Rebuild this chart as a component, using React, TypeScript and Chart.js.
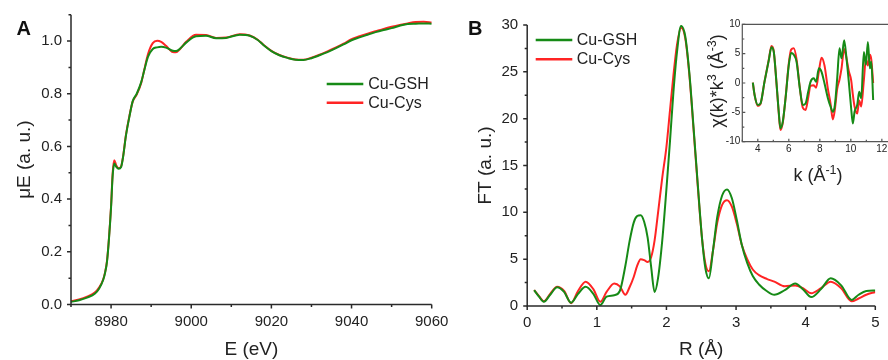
import React, { useEffect, useRef } from "react";
import { Chart, registerables } from "chart.js";

Chart.register(...registerables);

const FONT = '"Liberation Sans", Arial, Helvetica, sans-serif';
const GREEN = "#168a16";
const RED = "#ff2424";
const INK = "#222222";

const SERIES_NAMES = ["Cu-GSH", "Cu-Cys"];

// ---------- Panel A: XANES ----------
const E_EV = [8970, 8972, 8974, 8976, 8977, 8978, 8978.5, 8979, 8979.5, 8980, 8980.4, 8980.8, 8981.3, 8981.9, 8982.5, 8983, 8983.7, 8984.6, 8985.4, 8986.4, 8987.5, 8988.3, 8989.2, 8990.4, 8991.5, 8992.5, 8993.7, 8995.4, 8996.2, 8997.1, 8998.8, 9001.2, 9003.7, 9006.2, 9008.7, 9012.1, 9014.6, 9016.6, 9018, 9020, 9022, 9024, 9026, 9028, 9030, 9032, 9034, 9036, 9038, 9040, 9042, 9044, 9046, 9048, 9050, 9052, 9054, 9056, 9058, 9060];
const MU_GSH = [0.010, 0.016, 0.026, 0.042, 0.060, 0.092, 0.120, 0.165, 0.255, 0.370, 0.490, 0.535, 0.522, 0.515, 0.522, 0.560, 0.640, 0.715, 0.772, 0.800, 0.843, 0.890, 0.940, 0.970, 0.976, 0.978, 0.975, 0.963, 0.962, 0.970, 0.995, 1.018, 1.020, 1.011, 1.012, 1.024, 1.020, 1.004, 0.985, 0.962, 0.946, 0.936, 0.929, 0.928, 0.935, 0.946, 0.958, 0.972, 0.987, 1.003, 1.014, 1.024, 1.034, 1.042, 1.049, 1.058, 1.065, 1.066, 1.067, 1.066];
const MU_CYS = [0.012, 0.019, 0.030, 0.046, 0.064, 0.094, 0.122, 0.168, 0.258, 0.375, 0.500, 0.548, 0.528, 0.517, 0.524, 0.562, 0.643, 0.718, 0.770, 0.797, 0.840, 0.892, 0.950, 0.992, 1.001, 0.997, 0.982, 0.958, 0.957, 0.968, 0.998, 1.024, 1.023, 1.012, 1.013, 1.026, 1.021, 1.005, 0.986, 0.963, 0.947, 0.937, 0.930, 0.929, 0.937, 0.948, 0.961, 0.975, 0.990, 1.007, 1.018, 1.028, 1.037, 1.046, 1.054, 1.061, 1.067, 1.072, 1.073, 1.070];
const A_X_TICKS = [8980, 9000, 9020, 9040, 9060];
const A_Y_TICKS = [0, 0.2, 0.4, 0.6, 0.8, 1.0];

// ---------- Panel B: Fourier transform ----------
const R_ANG = [0.10, 0.17, 0.24, 0.33, 0.43, 0.53, 0.63, 0.73, 0.84, 0.95, 1.05, 1.14, 1.25, 1.33, 1.41, 1.47, 1.53, 1.58, 1.63, 1.68, 1.73, 1.78, 1.83, 1.88, 1.94, 2.00, 2.05, 2.10, 2.15, 2.21, 2.27, 2.33, 2.39, 2.45, 2.51, 2.56, 2.61, 2.67, 2.73, 2.80, 2.87, 2.94, 3.01, 3.08, 3.16, 3.24, 3.33, 3.44, 3.55, 3.70, 3.85, 3.96, 4.08, 4.22, 4.36, 4.51, 4.66, 4.76, 4.87, 5.00];
const FT_GSH = [1.7, 1.0, 0.45, 1.2, 2.0, 1.5, 0.35, 1.3, 2.05, 1.3, 0.1, 1.0, 1.15, 1.6, 4.3, 6.9, 8.9, 9.6, 9.7, 9.0, 7.3, 4.2, 1.5, 3.0, 7.0, 12.5, 17.5, 22.8, 27.0, 29.9, 28.8, 24.8, 19.0, 13.0, 7.3, 4.0, 2.95, 6.0, 9.5, 11.8, 12.45, 11.5, 9.2, 6.6, 4.6, 3.2, 2.3, 1.6, 1.2, 1.7, 2.4, 1.8, 0.95, 1.8, 2.95, 2.2, 0.65, 1.2, 1.6, 1.65];
const FT_CYS = [1.7, 1.05, 0.5, 1.3, 2.05, 1.6, 0.3, 1.6, 2.6, 1.8, 0.45, 1.5, 2.4, 2.1, 1.2, 2.0, 3.1, 4.3, 5.0, 4.9, 4.7, 5.2, 7.0, 10.0, 13.7, 17.0, 20.8, 24.6, 27.8, 29.7, 28.6, 24.6, 18.8, 12.8, 7.3, 4.5, 3.7, 6.0, 8.9, 10.8, 11.3, 10.6, 8.8, 6.6, 5.0, 3.9, 3.3, 2.9, 2.6, 2.1, 2.2, 1.9, 1.35, 1.9, 2.6, 1.9, 0.5, 0.8, 1.2, 1.5];
const B_X_TICKS = [0, 1, 2, 3, 4, 5];
const B_Y_TICKS = [0, 5, 10, 15, 20, 25, 30];

// ---------- Inset: k-space ----------
const K_INV = [3.68, 3.79, 4.0, 4.17, 4.43, 4.71, 4.88, 5.03, 5.2, 5.35, 5.46, 5.61, 5.79, 6.0, 6.15, 6.32, 6.5, 6.71, 6.9, 7.08, 7.25, 7.4, 7.61, 7.76, 7.94, 8.11, 8.3, 8.52, 8.69, 8.84, 8.97, 9.12, 9.27, 9.4, 9.57, 9.72, 9.87, 10.02, 10.13, 10.24, 10.41, 10.54, 10.67, 10.84, 10.97, 11.1, 11.23, 11.32, 11.44];
const CHI_GSH = [0.05, -2.0, -3.75, -3.5, 0.2, 3.9, 6.1, 5.3, 0.2, -4.9, -7.7, -6.6, -2.6, 3.1, 5.1, 4.8, 3.6, -0.9, -3.75, -3.5, -1.5, 0.2, 0.8, 0.2, 2.5, 1.9, -0.05, -2.6, -4.0, -4.9, -3.75, 0.8, 5.9, 4.2, 7.3, 4.2, 0.2, -4.3, -6.9, -4.9, -3.75, -1.5, -2.6, 5.3, 3.1, 7.0, 2.5, 3.6, -2.9];
const CHI_CYS = [0.05, -2.0, -3.9, -3.6, 0.2, 4.0, 6.3, 5.4, 0.1, -5.1, -8.0, -6.8, -2.5, 3.4, 5.7, 5.9, 4.0, -0.8, -4.2, -4.6, -2.5, -0.5, -0.4, -0.8, 2.0, 4.3, 3.0, -1.0, -3.5, -6.2, -4.5, -1.0, 0.6, 2.5, 5.8, 4.2, 2.0, 0.5, -2.0, -4.0, -5.2, -3.0, -4.0, 0.5, 4.0, 3.0, 4.8, 4.0, 0.0];
const K_TICKS = [4, 6, 8, 10, 12];
const CHI_TICKS = [-10, -5, 0, 5, 10];

// Inset axis titles with real superscripts
const INSET_X_TITLE = [{ t: "k (\u00c5" }, { t: "-1", sup: true }, { t: ")" }];
const INSET_Y_TITLE = [{ t: "\u03c7(k)*k" }, { t: "3", sup: true }, { t: " (\u00c5" }, { t: "-3", sup: true }, { t: ")" }];

const toXY = (xs: number[], ys: number[]) => xs.map((x, i) => ({ x, y: ys[i] }));

// Origin-style axes: axis lines, major + minor ticks
const originAxes = {
  id: "originAxes",
  afterDraw(chart: any, _args: any, opts: any) {
    const { ctx, chartArea: ca, scales } = chart;
    const xs = scales.x;
    const ys = scales.y;
    ctx.save();
    ctx.strokeStyle = opts.color;
    ctx.lineWidth = opts.lineWidth;
    ctx.beginPath();
    if (opts.frame) {
      ctx.rect(ca.left, ca.top, ca.right - ca.left, ca.bottom - ca.top);
    } else {
      ctx.moveTo(ca.left, ca.top);
      ctx.lineTo(ca.left, ca.bottom);
      ctx.lineTo(ca.right, ca.bottom);
    }
    ctx.stroke();
    const dir = opts.inward ? -1 : 1;
    ctx.beginPath();
    const isMajor = (scale: any, v: number) =>
      scale.ticks.some((t: any) => Math.abs(t.value - v) < 1e-6);
    const xTick = (v: number, len: number) => {
      const p = xs.getPixelForValue(v);
      ctx.moveTo(p, ca.bottom);
      ctx.lineTo(p, ca.bottom + dir * len);
    };
    const yTick = (v: number, len: number) => {
      const p = ys.getPixelForValue(v);
      ctx.moveTo(ca.left, p);
      ctx.lineTo(ca.left - dir * len, p);
    };
    xs.ticks.forEach((t: any) => xTick(t.value, opts.major));
    ys.ticks.forEach((t: any) => yTick(t.value, opts.major));
    const nx = Math.round((xs.max - xs.min) / opts.xMinor);
    for (let i = 0; i <= nx; i++) {
      const v = xs.min + i * opts.xMinor;
      if (!isMajor(xs, v)) xTick(v, opts.minor);
    }
    const ny = Math.round((ys.max - ys.min) / opts.yMinor);
    for (let i = 0; i <= ny; i++) {
      const v = ys.min + i * opts.yMinor;
      if (!isMajor(ys, v)) yTick(v, opts.minor);
    }
    ctx.stroke();
    ctx.restore();
  },
};

// Line-sample legend
const lineLegend = {
  id: "lineLegend",
  afterDraw(chart: any, _args: any, opts: any) {
    if (!opts || !opts.show) return;
    const { ctx } = chart;
    ctx.save();
    chart.data.datasets.forEach((ds: any, i: number) => {
      const y = opts.y + i * opts.dy;
      ctx.strokeStyle = ds.borderColor;
      ctx.lineWidth = opts.lineWidth;
      ctx.beginPath();
      ctx.moveTo(opts.x, y);
      ctx.lineTo(opts.x + opts.len, y);
      ctx.stroke();
      ctx.fillStyle = INK;
      ctx.font = `${opts.size}px ${FONT}`;
      ctx.textBaseline = "middle";
      ctx.textAlign = "left";
      ctx.fillText(ds.label, opts.x + opts.len + opts.gap, y + 0.5);
    });
    ctx.restore();
  },
};

// Panel letter
const panelLabel = {
  id: "panelLabel",
  afterDraw(chart: any, _args: any, opts: any) {
    if (!opts || !opts.text) return;
    const { ctx } = chart;
    ctx.save();
    ctx.fillStyle = "#111";
    ctx.font = `bold 20px ${FONT}`;
    ctx.textBaseline = "alphabetic";
    ctx.textAlign = "left";
    ctx.fillText(opts.text, opts.x, opts.y);
    ctx.restore();
  },
};

// Axis titles with superscripts (centered on the plot area)
function drawRich(ctx: any, parts: any[], size: number, supSize: number) {
  const w = parts.reduce((acc, p) => {
    ctx.font = `${p.sup ? supSize : size}px ${FONT}`;
    return acc + ctx.measureText(p.t).width;
  }, 0);
  let x = -w / 2;
  parts.forEach((p) => {
    ctx.font = `${p.sup ? supSize : size}px ${FONT}`;
    ctx.fillText(p.t, x, p.sup ? -size * 0.38 : 0);
    x += ctx.measureText(p.t).width;
  });
}

const richTitles = {
  id: "richTitles",
  afterDraw(chart: any, _args: any, opts: any) {
    if (!opts || !opts.show) return;
    const { ctx, chartArea: ca } = chart;
    ctx.save();
    ctx.fillStyle = INK;
    ctx.textBaseline = "alphabetic";
    ctx.textAlign = "left";
    ctx.save();
    ctx.translate((ca.left + ca.right) / 2 + opts.xDx, ca.bottom + opts.xDy);
    drawRich(ctx, opts.xParts, opts.size, opts.supSize);
    ctx.restore();
    ctx.save();
    ctx.translate(ca.left - opts.yDx, (ca.top + ca.bottom) / 2 + opts.yDy);
    ctx.rotate(-Math.PI / 2);
    drawRich(ctx, opts.yParts, opts.size, opts.supSize);
    ctx.restore();
    ctx.restore();
  },
};

type PanelCfg = {
  xs: number[];
  ys: [number[], number[]];
  xMin: number;
  xMax: number;
  yMin: number;
  yMax: number;
  xTicks: number[];
  yTicks: number[];
  xFmt: (v: number) => string;
  yFmt: (v: number) => string;
  xTitle: string;
  yTitle: string;
  showTitles: boolean;
  padding: { left: number; right: number; top: number; bottom: number };
  yWidth: number;
  xHeight: number;
  tickSize: number;
  titleSize: number;
  xTickPad: number;
  yTickPad: number;
  xTitlePad: number;
  yTitlePad: number;
  axes: any;
  legend: any;
  label: any;
  rich: any;
  lineWidth: number;
};

function makeConfig(c: PanelCfg): any {
  return {
    type: "line",
    data: {
      datasets: [
        {
          label: SERIES_NAMES[0],
          data: toXY(c.xs, c.ys[0]),
          borderColor: GREEN,
          borderWidth: c.lineWidth,
          pointRadius: 0,
          fill: false,
          cubicInterpolationMode: "monotone",
        },
        {
          label: SERIES_NAMES[1],
          data: toXY(c.xs, c.ys[1]),
          borderColor: RED,
          borderWidth: c.lineWidth,
          pointRadius: 0,
          fill: false,
          cubicInterpolationMode: "monotone",
        },
      ],
    },
    options: {
      animation: false,
      responsive: false,
      events: [],
      layout: { padding: c.padding },
      plugins: {
        legend: { display: false },
        tooltip: { enabled: false },
        originAxes: c.axes,
        lineLegend: c.legend,
        panelLabel: c.label,
        richTitles: c.rich,
      },
      scales: {
        x: {
          type: "linear",
          min: c.xMin,
          max: c.xMax,
          grid: { display: true, drawOnChartArea: false, drawTicks: false },
          border: { display: false },
          afterBuildTicks: (s: any) => {
            s.ticks = c.xTicks.map((v) => ({ value: v }));
          },
          afterFit: (s: any) => {
            s.height = c.xHeight;
            s.paddingLeft = 0;
            s.paddingRight = 0;
          },
          ticks: {
            autoSkip: false,
            maxRotation: 0,
            padding: c.xTickPad,
            color: INK,
            font: { family: FONT, size: c.tickSize },
            callback: (v: any) => c.xFmt(Number(v)),
          },
          title: {
            display: c.showTitles,
            text: c.xTitle,
            color: INK,
            font: { family: FONT, size: c.titleSize },
            padding: { top: 0, bottom: c.xTitlePad },
          },
        },
        y: {
          type: "linear",
          min: c.yMin,
          max: c.yMax,
          grid: { display: true, drawOnChartArea: false, drawTicks: false },
          border: { display: false },
          afterBuildTicks: (s: any) => {
            s.ticks = c.yTicks.map((v) => ({ value: v }));
          },
          afterFit: (s: any) => {
            s.width = c.yWidth;
            s.paddingTop = 0;
            s.paddingBottom = 0;
          },
          ticks: {
            autoSkip: false,
            padding: c.yTickPad,
            color: INK,
            font: { family: FONT, size: c.tickSize },
            callback: (v: any) => c.yFmt(Number(v)),
          },
          title: {
            display: c.showTitles,
            text: c.yTitle,
            color: INK,
            font: { family: FONT, size: c.titleSize },
            padding: { top: c.yTitlePad, bottom: 0 },
          },
        },
      },
    },
    plugins: [originAxes, lineLegend, panelLabel, richTitles],
  };
}

const CANVAS_H = 380;

export default function App() {
  const aRef = useRef<HTMLCanvasElement | null>(null);
  const bRef = useRef<HTMLCanvasElement | null>(null);
  const iRef = useRef<HTMLCanvasElement | null>(null);

  useEffect(() => {
    const charts: Chart[] = [];
    const mainAxes = { color: "#2a2a2a", lineWidth: 1.5, frame: false, inward: false, major: 4, minor: 2.5 };

    charts.push(
      new Chart(
        aRef.current as HTMLCanvasElement,
        makeConfig({
          xs: E_EV,
          ys: [MU_GSH, MU_CYS],
          xMin: 8970,
          xMax: 9060,
          yMin: 0,
          yMax: 1.1,
          xTicks: A_X_TICKS,
          yTicks: A_Y_TICKS,
          xFmt: (v) => String(v),
          yFmt: (v) => v.toFixed(1),
          xTitle: "E (eV)",
          yTitle: "\u03bcE (a. u.)",
          showTitles: true,
          padding: { left: 11, right: 888 - 431.7, top: 14.7, bottom: 10 },
          yWidth: 60,
          xHeight: CANVAS_H - 10 - 304.5,
          tickSize: 15,
          titleSize: 19,
          xTickPad: 8,
          yTickPad: 9,
          xTitlePad: 8.6,
          yTitlePad: 2.1,
          axes: { ...mainAxes, xMinor: 10, yMinor: 0.1 },
          legend: { show: true, x: 326.7, y: 84, dy: 18.7, len: 36.6, gap: 5, size: 16, lineWidth: 2.5 },
          label: { text: "A", x: 16.5, y: 35 },
          rich: { show: false },
          lineWidth: 2,
        })
      )
    );

    charts.push(
      new Chart(
        bRef.current as HTMLCanvasElement,
        makeConfig({
          xs: R_ANG,
          ys: [FT_GSH, FT_CYS],
          xMin: 0,
          xMax: 5,
          yMin: 0,
          yMax: 30,
          xTicks: B_X_TICKS,
          yTicks: B_Y_TICKS,
          xFmt: (v) => String(v),
          yFmt: (v) => String(v),
          xTitle: "R (\u00c5)",
          yTitle: "FT (a. u.)",
          showTitles: true,
          padding: { left: 467.2, right: 888 - 875.3, top: 25, bottom: 10 },
          yWidth: 60,
          xHeight: CANVAS_H - 10 - 306,
          tickSize: 15,
          titleSize: 19,
          xTickPad: 8,
          yTickPad: 9,
          xTitlePad: 8.6,
          yTitlePad: 7.1,
          axes: { ...mainAxes, xMinor: 0.5, yMinor: 2.5 },
          legend: { show: true, x: 535.7, y: 40, dy: 19.3, len: 36.6, gap: 4.5, size: 16, lineWidth: 2.5 },
          label: { text: "B", x: 468, y: 35 },
          rich: { show: false },
          lineWidth: 2,
        })
      )
    );

    charts.push(
      new Chart(
        iRef.current as HTMLCanvasElement,
        makeConfig({
          xs: K_INV,
          ys: [CHI_GSH, CHI_CYS],
          xMin: 3,
          xMax: 12.5,
          yMin: -10,
          yMax: 10,
          xTicks: K_TICKS,
          yTicks: CHI_TICKS,
          xFmt: (v) => String(v),
          yFmt: (v) => String(v),
          xTitle: "k (\u00c5\u207b\u00b9)",
          yTitle: "\u03c7(k)*k\u00b3 (\u00c5\u207b\u00b3)",
          showTitles: false,
          padding: { left: 702.3, right: 900 - 889.6, top: 24.3, bottom: CANVAS_H - 141.7 - 45 },
          yWidth: 40,
          xHeight: 45,
          tickSize: 10,
          titleSize: 16,
          xTickPad: 1.5,
          yTickPad: 2,
          xTitlePad: 3,
          yTitlePad: 5.5,
          axes: { color: "#555", lineWidth: 1.2, frame: true, inward: true, major: 3, minor: 2, xMinor: 1, yMinor: 2.5 },
          legend: { show: false },
          label: { text: "" },
          rich: {
            show: true,
            xParts: INSET_X_TITLE,
            yParts: INSET_Y_TITLE,
            size: 18,
            supSize: 12.5,
            xDx: 2,
            xDy: 39,
            yDx: 19,
            yDy: -2,
          },
          lineWidth: 2,
        })
      )
    );

    return () => {
      charts.forEach((c) => c.destroy());
    };
  }, []);

  return (
    <div
      style={{
        position: "fixed",
        left: 0,
        top: 0,
        width: 888,
        height: 360,
        overflow: "hidden",
        background: "#ffffff",
      }}
    >
      <canvas ref={aRef} width={888} height={CANVAS_H} style={{ position: "absolute", left: 0, top: 0 }} />
      <canvas ref={bRef} width={888} height={CANVAS_H} style={{ position: "absolute", left: 0, top: 0 }} />
      <canvas ref={iRef} width={900} height={CANVAS_H} style={{ position: "absolute", left: 0, top: 0 }} />
    </div>
  );
}
